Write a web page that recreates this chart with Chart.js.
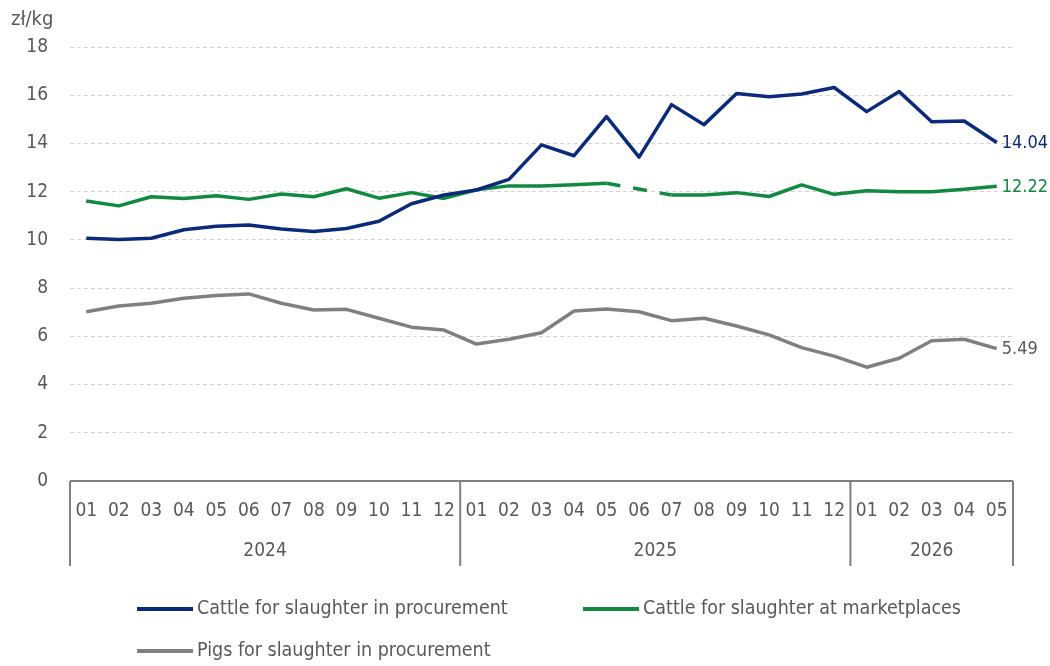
<!DOCTYPE html>
<html>
<head>
<meta charset="utf-8">
<script src="https://cdn.jsdelivr.net/npm/chart.js@4.4.1/dist/chart.umd.min.js"></script>
<style>
  html, body { margin: 0; padding: 0; background: #fff; }
  #chartArea { width: 1050px; height: 666px; position: relative; }
</style>
</head>
<body>
<div id="chartArea"><canvas id="chartPrices"></canvas></div>
<script>
// categories
const months = ['01','02','03','04','05','06','07','08','09','10','11','12',
                '01','02','03','04','05','06','07','08','09','10','11','12',
                '01','02','03','04','05'];
const years = ['2024', '2025', '2026'];
const monthsPerYear = [12, 12, 5];

// series values, zł/kg
const cattleProcurement = [10.07, 10.02, 10.07, 10.42, 10.57, 10.62, 10.45, 10.35, 10.47, 10.77, 11.50, 11.86,
                           12.07, 12.51, 13.94, 13.49, 15.11, 13.43, 15.61, 14.78, 16.07, 15.94, 16.05, 16.32,
                           15.32, 16.15, 14.90, 14.93, 14.04];
const cattleMarketplaces = [11.61, 11.41, 11.79, 11.72, 11.83, 11.68, 11.90, 11.79, 12.12, 11.73, 11.96, 11.72,
                            12.08, 12.24, 12.24, 12.29, 12.35, null, 11.86, 11.86, 11.96, 11.80, 12.28, 11.89,
                            12.04, 12.00, 12.00, 12.10, 12.22];
const pigsProcurement = [7.02, 7.26, 7.37, 7.58, 7.69, 7.76, 7.37, 7.09, 7.12, 6.75, 6.38, 6.26,
                         5.68, 5.88, 6.15, 7.05, 7.13, 7.02, 6.65, 6.75, 6.43, 6.06, 5.53, 5.18,
                         4.72, 5.09, 5.82, 5.88, 5.49];
const endLabels = ['14.04', '12.22', '5.49'];

const seriesNames = ['Cattle for slaughter in procurement', 'Cattle for slaughter at marketplaces', 'Pigs for slaughter in procurement'];
const colors = ['#0b2a7c', '#0f8a40', '#808080'];
const labelColors = ['#0b2a7c', '#0f8a40', '#595959'];
const textColor = '#595959';
const axisColor = '#7f7f7f';
const font = "'Liberation Sans Narrow', 'DejaVu Sans Condensed', sans-serif";

const gapDash = (ctx) => (ctx.p0.skip || ctx.p1.skip ? [14, 13] : undefined);

// draws month/year axis, end labels, unit and legend
const decorPlugin = {
  id: 'decor',
  afterDraw(chart) {
    const ctx = chart.ctx;
    const x = chart.scales.x;
    const y = chart.scales.y;
    const area = chart.chartArea;
    const base = y.getPixelForValue(0);
    const half = (x.getPixelForValue(1) - x.getPixelForValue(0)) / 2;
    ctx.save();

    // unit
    ctx.fillStyle = textColor;
    ctx.font = '20px ' + font;
    ctx.textAlign = 'left';
    ctx.textBaseline = 'middle';
    ctx.fillText('zł/kg', 11, 20);

    // axis line and separators
    ctx.strokeStyle = axisColor;
    ctx.lineWidth = 2;
    ctx.beginPath();
    ctx.moveTo(area.left, base);
    ctx.lineTo(area.right, base);
    let idx = 0;
    const bounds = [area.left];
    monthsPerYear.forEach((n) => {
      idx += n;
      bounds.push(x.getPixelForValue(idx - 1) + half);
    });
    bounds.forEach((bx) => {
      ctx.moveTo(bx, base);
      ctx.lineTo(bx, base + 85);
    });
    ctx.stroke();

    // month labels
    ctx.fillStyle = textColor;
    ctx.font = '19px ' + font;
    ctx.textAlign = 'center';
    months.forEach((m, i) => {
      ctx.fillText(m, x.getPixelForValue(i), base + 30);
    });
    // year labels
    years.forEach((yr, i) => {
      ctx.fillText(yr, (bounds[i] + bounds[i + 1]) / 2, base + 70);
    });

    // end labels
    ctx.textAlign = 'left';
    ctx.font = '18px ' + font;
    chart.data.datasets.forEach((ds, i) => {
      const last = ds.data.length - 1;
      ctx.fillStyle = labelColors[i];
      ctx.fillText(endLabels[i], x.getPixelForValue(last) + 5, y.getPixelForValue(ds.data[last]) + 1);
    });

    // legend
    const legendPos = [[137, 609], [583, 609], [137, 651]];
    ctx.font = '19.5px ' + font;
    chart.data.datasets.forEach((ds, i) => {
      const [lx, ly] = legendPos[i];
      ctx.strokeStyle = colors[i];
      ctx.lineWidth = 4;
      ctx.beginPath();
      ctx.moveTo(lx, ly);
      ctx.lineTo(lx + 56, ly);
      ctx.stroke();
      ctx.fillStyle = textColor;
      ctx.fillText(ds.label, lx + 60, ly);
    });
    ctx.restore();
  }
};

const ctx = document.getElementById('chartPrices').getContext('2d');
const chartPrices = new Chart(ctx, {
  type: 'line',
  data: {
    labels: months,
    datasets: [
      { label: seriesNames[0], data: cattleProcurement, borderColor: colors[0] },
      { label: seriesNames[1], data: cattleMarketplaces, borderColor: colors[1], spanGaps: true,
        segment: { borderDash: gapDash } },
      { label: seriesNames[2], data: pigsProcurement, borderColor: colors[2] },
    ],
  },
  options: {
    responsive: true,
    maintainAspectRatio: false,
    animation: false,
    layout: { padding: { left: 0, right: 37, top: 47, bottom: 185 } },
    elements: {
      line: { borderWidth: 3.5, tension: 0, borderCapStyle: 'butt', borderJoinStyle: 'round' },
      point: { radius: 0, hoverRadius: 0 },
    },
    plugins: {
      legend: { display: false },
      tooltip: { enabled: false },
    },
    scales: {
      x: { display: false, offset: true },
      y: {
        min: 0,
        max: 18,
        afterFit: (scale) => { scale.width = 70; },
        ticks: {
          stepSize: 2,
          padding: 22,
          color: textColor,
          font: { family: font, size: 19 },
        },
        grid: {
          drawTicks: false,
          color: (c) => (c.tick.value === 0 ? 'rgba(0,0,0,0)' : '#d4d4d4'),
          lineWidth: 1,
        },
        border: { display: false, dash: [4, 3] },
      },
    },
  },
  plugins: [decorPlugin],
});
</script>
</body>
</html>
